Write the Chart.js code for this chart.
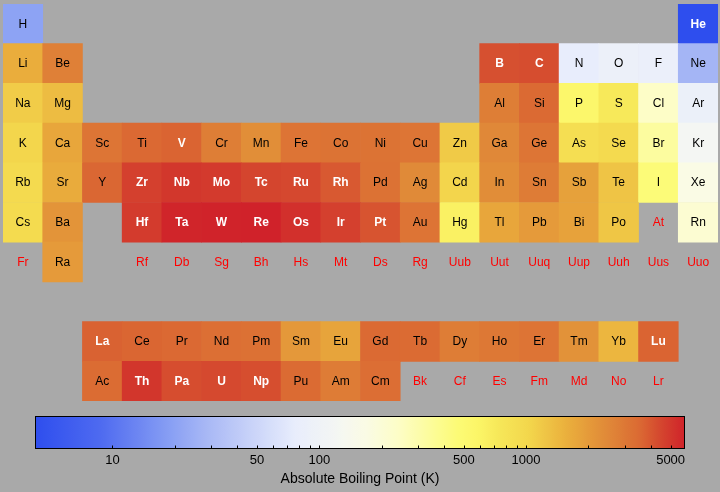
<!DOCTYPE html>
<html>
<head>
<meta charset="utf-8">
<script src="https://cdn.jsdelivr.net/npm/chart.js@4/dist/chart.umd.min.js"></script>
<style>
html, body { margin: 0; padding: 0; background: #a9a9a9; }
#wrap { position: relative; width: 720px; height: 492px; overflow: hidden; }
#table { position: absolute; left: 0; top: 0; }
#bar { position: absolute; left: 0; top: 405px; }
</style>
</head>
<body>
<div id="wrap">
  <canvas id="table" width="720" height="405"></canvas>
  <canvas id="bar" width="720" height="87"></canvas>
</div>
<script>
// element symbols by table row (period) and column (group); row 8 is the gap
const symbolRows = [
  ['H','','','','','','','','','','','','','','','','','He'],
  ['Li','Be','','','','','','','','','','','B','C','N','O','F','Ne'],
  ['Na','Mg','','','','','','','','','','','Al','Si','P','S','Cl','Ar'],
  ['K','Ca','Sc','Ti','V','Cr','Mn','Fe','Co','Ni','Cu','Zn','Ga','Ge','As','Se','Br','Kr'],
  ['Rb','Sr','Y','Zr','Nb','Mo','Tc','Ru','Rh','Pd','Ag','Cd','In','Sn','Sb','Te','I','Xe'],
  ['Cs','Ba','','Hf','Ta','W','Re','Os','Ir','Pt','Au','Hg','Tl','Pb','Bi','Po','At','Rn'],
  ['Fr','Ra','','Rf','Db','Sg','Bh','Hs','Mt','Ds','Rg','Uub','Uut','Uuq','Uup','Uuh','Uus','Uuo'],
  [],
  ['','','La','Ce','Pr','Nd','Pm','Sm','Eu','Gd','Tb','Dy','Ho','Er','Tm','Yb','Lu',''],
  ['','','Ac','Th','Pa','U','Np','Pu','Am','Cm','Bk','Cf','Es','Fm','Md','No','Lr','']
];

// boiling points in K, null = no value (no cell drawn)
const _ = null;
const boilingRows = [
  [20.28,_,_,_,_,_,_,_,_,_,_,_,_,_,_,_,_,4.22],
  [1615,2742,_,_,_,_,_,_,_,_,_,_,4200,4300,77.36,90.2,85.03,27.07],
  [1156,1363,_,_,_,_,_,_,_,_,_,_,2792,3538,553.6,717.9,239.1,87.3],
  [1032,1757,3109,3560,3680,2800,2334,3134,3200,3186,3100,1180,2477,3106,887,958,332,119.9],
  [961,1655,3609,4682,5017,4912,4538,4423,3968,3236,2435,1040,2345,2875,1860,1261,457.4,165],
  [944,2170,_,4876,5731,5828,5869,5285,4701,4098,3129,629.9,1746,2022,1837,1235,_,211.3],
  [_,2010,_,_,_,_,_,_,_,_,_,_,_,_,_,_,_,_],
  [],
  [_,_,3737,3633,3563,3347,3273,2067,1802,3546,3503,2840,2993,3141,2223,1469,3675,_],
  [_,_,3471,5061,4300,4404,4273,3501,2880,3383,_,_,_,_,_,_,_,_]
];

// colour bar ticks
const barTicks = [10,20,30,40,50,60,70,80,90,100,200,300,400,500,600,700,800,900,1000,2000,3000,4000,5000];
const barTickLabels = [10, 50, 100, 500, 1000, 5000];
const barTitle = 'Absolute Boiling Point (K)';

// blue - white - yellow - red temperature map
const tempStops = [
  [0.00, [46, 78, 238]],
  [0.10, [78, 106, 240]],
  [0.215, [140, 162, 244]],
  [0.26, [166, 182, 245]],
  [0.40, [232, 237, 252]],
  [0.47, [245, 247, 242]],
  [0.51, [250, 251, 228]],
  [0.56, [253, 253, 198]],
  [0.60, [252, 252, 162]],
  [0.65, [252, 251, 118]],
  [0.68, [252, 246, 104]],
  [0.71, [247, 233, 90]],
  [0.76, [243, 214, 76]],
  [0.82, [234, 174, 60]],
  [0.88, [224, 137, 56]],
  [0.93, [219, 106, 51]],
  [0.965, [212, 68, 46]],
  [1.00, [208, 34, 42]]
];

const allValues = boilingRows.flat().filter(v => v != null);
const vMin = Math.min(...allValues);
const vMax = Math.max(...allValues);

function tempColor(v) {
  let t = (Math.log(v) - Math.log(vMin)) / (Math.log(vMax) - Math.log(vMin));
  t = Math.max(0, Math.min(1, t));
  for (let i = 1; i < tempStops.length; i++) {
    if (t <= tempStops[i][0]) {
      const [t0, c0] = tempStops[i - 1];
      const [t1, c1] = tempStops[i];
      const f = (t - t0) / (t1 - t0);
      const c = c0.map((a, k) => Math.round(a + (c1[k] - a) * f));
      return `rgb(${c[0]},${c[1]},${c[2]})`;
    }
  }
  const c = tempStops[tempStops.length - 1][1];
  return `rgb(${c[0]},${c[1]},${c[2]})`;
}

// cells as floating bars
const cells = [];
const cellColors = [];
boilingRows.forEach((row, r) => row.forEach((v, c) => {
  if (v == null) return;
  cells.push({ x: c + 1, y: [r + 0.5, r + 1.5] });
  cellColors.push(tempColor(v));
}));

const symbolPlugin = {
  id: 'symbols',
  afterDatasetsDraw(chart) {
    const { ctx, scales: { x, y } } = chart;
    ctx.save();
    ctx.textAlign = 'center';
    ctx.textBaseline = 'middle';
    symbolRows.forEach((row, r) => row.forEach((sym, c) => {
      if (!sym) return;
      const v = boilingRows[r][c];
      if (v == null) {
        ctx.fillStyle = '#ff0000';
        ctx.font = '12px "Liberation Sans", Arial, sans-serif';
      } else if (v > 3650 || v < 10) {
        ctx.fillStyle = '#ffffff';
        ctx.font = 'bold 12px "Liberation Sans", Arial, sans-serif';
      } else {
        ctx.fillStyle = '#000000';
        ctx.font = '12px "Liberation Sans", Arial, sans-serif';
      }
      ctx.fillText(sym, x.getPixelForValue(c + 1), y.getPixelForValue(r + 1) + 0.5);
    }));
    ctx.restore();
  }
};

new Chart(document.getElementById('table'), {
  type: 'bar',
  data: {
    datasets: [{
      data: cells,
      backgroundColor: cellColors,
      borderWidth: 0,
      categoryPercentage: 1,
      barPercentage: 1
    }]
  },
  options: {
    responsive: false,
    animation: false,
    layout: { padding: { left: 3, right: 2, top: 4, bottom: 4 } },
    plugins: { legend: { display: false }, tooltip: { enabled: false } },
    scales: {
      x: { type: 'linear', min: 0.5, max: 18.5, offset: false, display: false },
      y: { type: 'linear', min: 0.5, max: 10.5, reverse: true, offset: false, display: false }
    }
  },
  plugins: [symbolPlugin]
});

// colour bar
const colorBarPlugin = {
  id: 'colorbar',
  beforeDatasetsDraw(chart) {
    const { ctx, chartArea: a, scales: { x } } = chart;
    const g = ctx.createLinearGradient(a.left, 0, a.right, 0);
    const n = 120;
    for (let i = 0; i <= n; i++) {
      const v = vMin * Math.pow(vMax / vMin, i / n);
      const p = (x.getPixelForValue(v) - a.left) / (a.right - a.left);
      g.addColorStop(Math.max(0, Math.min(1, p)), tempColor(v));
    }
    ctx.save();
    ctx.fillStyle = g;
    ctx.fillRect(a.left, a.top, a.right - a.left, a.bottom - a.top);
    ctx.strokeStyle = '#000';
    ctx.lineWidth = 1;
    ctx.beginPath();
    barTicks.forEach(v => {
      const px = Math.round(x.getPixelForValue(v)) + 0.5;
      ctx.moveTo(px, a.bottom);
      ctx.lineTo(px, a.bottom - 3.5);
    });
    ctx.stroke();
    ctx.strokeRect(a.left + 0.5, a.top + 0.5, a.right - a.left - 1, a.bottom - a.top - 1);
    ctx.restore();
  }
};

new Chart(document.getElementById('bar'), {
  type: 'scatter',
  data: { datasets: [{ data: [] }] },
  options: {
    responsive: false,
    animation: false,
    layout: { padding: { left: 35, right: 35, top: 11, bottom: 0 } },
    plugins: { legend: { display: false }, tooltip: { enabled: false } },
    scales: {
      x: {
        type: 'logarithmic',
        min: vMin,
        max: vMax,
        grid: { display: false, drawTicks: false, tickLength: 0 },
        border: { display: false },
        afterBuildTicks: s => { s.ticks = barTicks.map(v => ({ value: v })); },
        afterFit: s => { s.height = 43; },
        ticks: {
          autoSkip: false,
          maxRotation: 0,
          padding: 4,
          color: '#000',
          font: { family: '"Liberation Sans", Arial, sans-serif', size: 13 },
          callback: v => barTickLabels.includes(v) ? String(v) : ''
        },
        title: {
          display: true,
          text: barTitle,
          color: '#000',
          padding: { top: 2, bottom: 4 },
          font: { family: '"Liberation Sans", Arial, sans-serif', size: 14 }
        }
      },
      y: { min: 0, max: 1, display: false }
    }
  },
  plugins: [colorBarPlugin]
});
</script>
</body>
</html>
